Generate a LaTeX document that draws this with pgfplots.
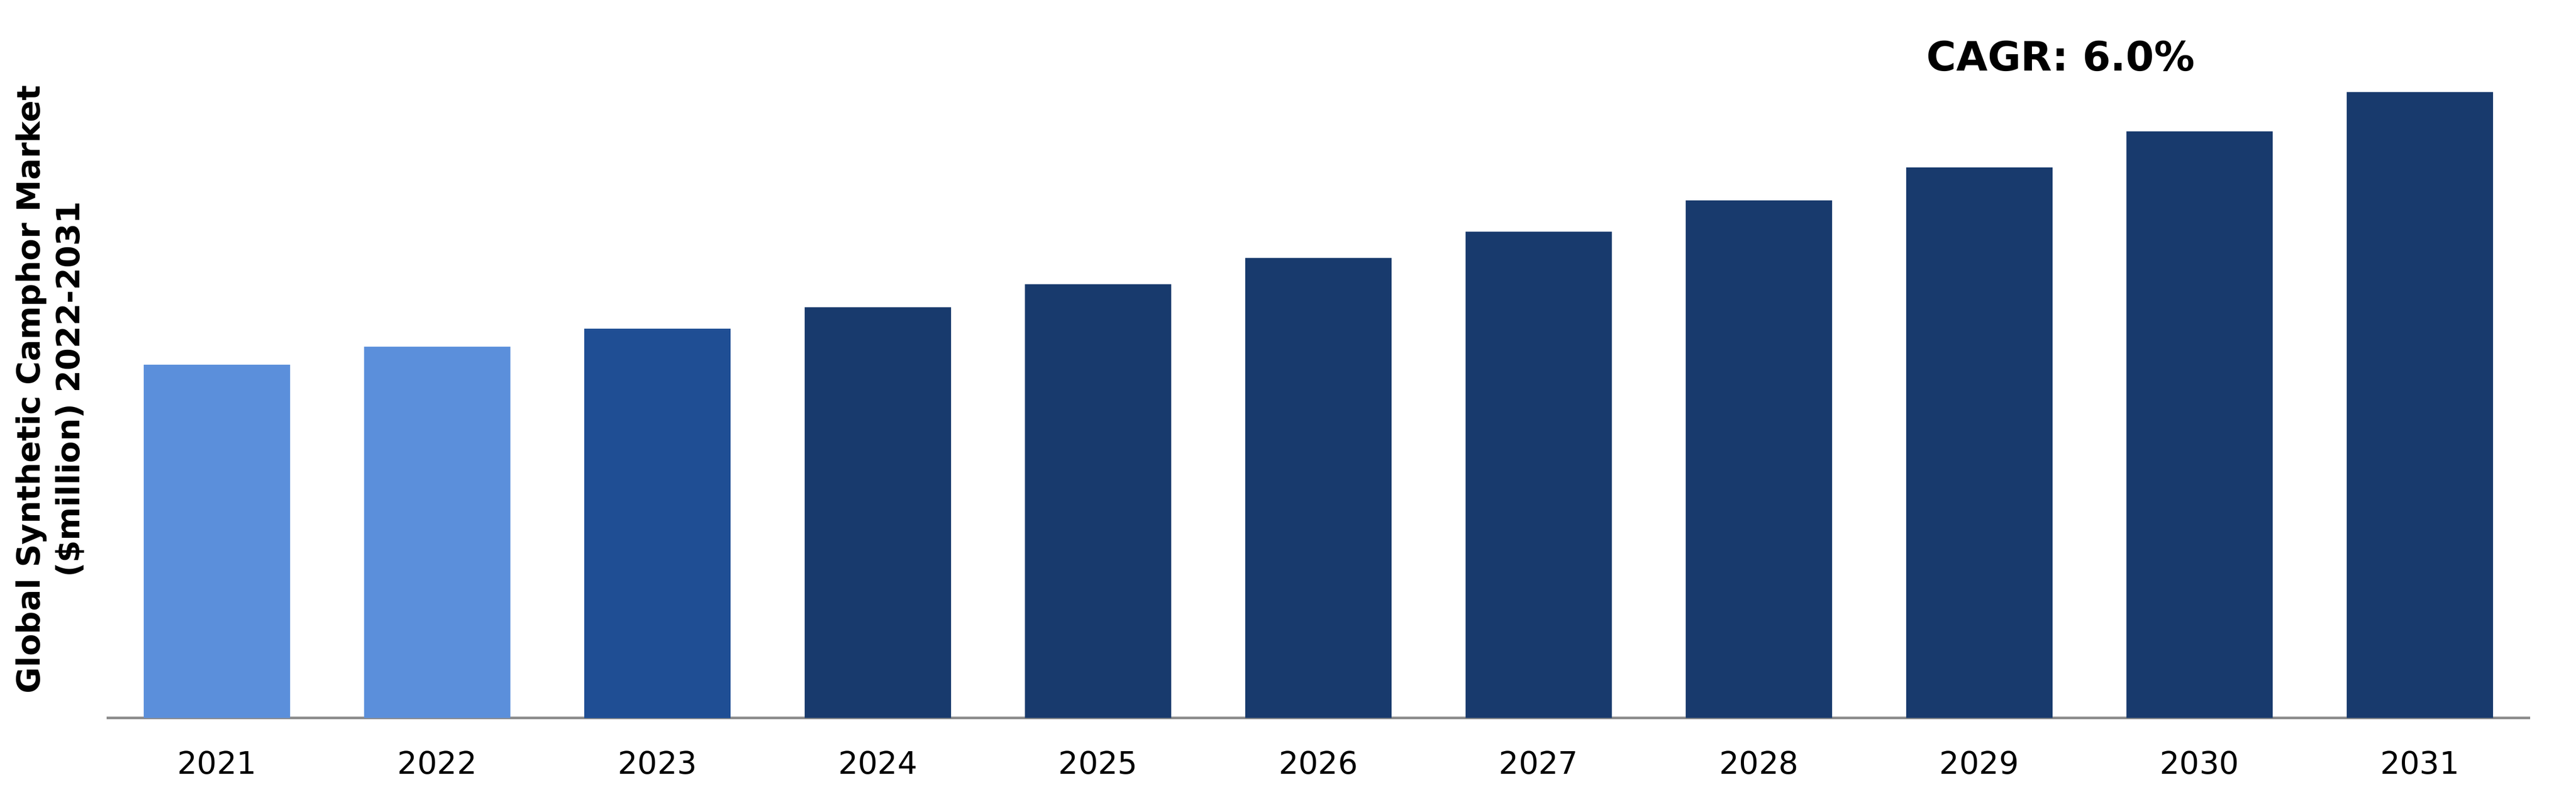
\documentclass[border=0pt]{standalone}
\usepackage{pgfplots}
\pgfplotsset{compat=1.18}
\usepackage{fontspec}
\setmainfont{DejaVu Sans}
\definecolor{lightbar}{HTML}{5B8FDB}
\definecolor{midbar}{HTML}{1F4E94}
\definecolor{darkbar}{HTML}{183A6D}
\definecolor{axisgray}{HTML}{8C8C8C}
\begin{document}
\begin{tikzpicture}
\begin{axis}[
    name=ax,
    scale only axis,
    width=1106.25pt, height=315pt,
    ybar, bar width=0.664, bar shift=0pt,
    xmin=-0.5, xmax=10.5,
    ymin=0, ymax=420,
    axis x line*=bottom, axis y line=none,
    x axis line style={draw=axisgray, line width=1.05pt, -},
    xtick={0,...,10},
    xticklabels={2021,2022,2023,2024,2025,2026,2027,2028,2029,2030,2031},
    major tick length=0pt,
    xticklabel style={font=\fontsize{14.2}{17}\selectfont, yshift=-11.5pt},
    ytick=\empty,
    clip=false,
]
\addplot[fill=lightbar, draw=none] coordinates {(0,215) (1,226)};
\addplot[fill=midbar, draw=none] coordinates {(2,237)};
\addplot[fill=darkbar, draw=none] coordinates {(3,250) (4,264) (5,280) (6,296) (7,315) (8,335) (9,357) (10,381)};
\node[font=\bfseries\fontsize{18.5}{22}\selectfont] at (axis cs:8.37,403) {CAGR: 6.0\%};
\node[rotate=90, align=center, font=\bfseries\fontsize{14.6}{18}\selectfont]
    at ([xshift=-26pt]rel axis cs:0,0.476) {Global Synthetic Camphor Market\\(\$million) 2022-2031};
\end{axis}
\path (ax.south west) ++(-48.75pt,-36pt) rectangle ([xshift=21pt,yshift=12.75pt]ax.north east);
\end{tikzpicture}
\end{document}
